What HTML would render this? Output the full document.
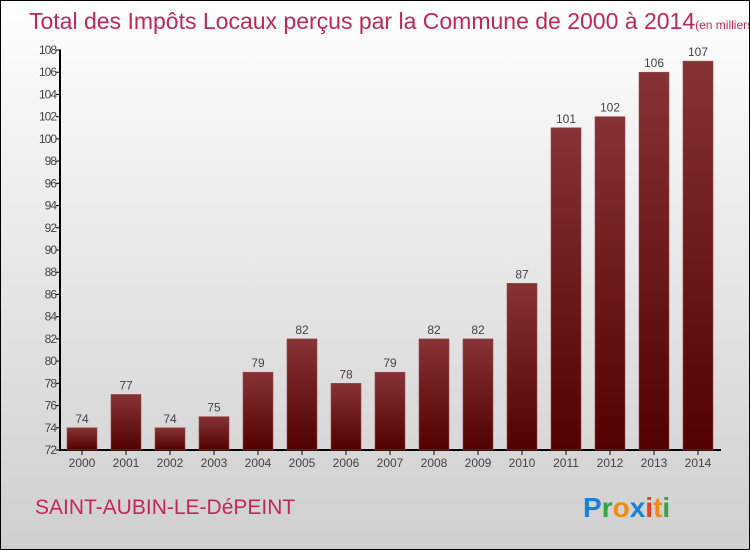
<!DOCTYPE html>
<html><head><meta charset="utf-8"><style>
body{margin:0}
#c{position:relative;width:748px;height:548px;border:1px solid #000;background:linear-gradient(#fff,#ebebeb 40%,#cfcfcf);font-family:"Liberation Sans",sans-serif;overflow:hidden}
</style></head><body>
<div id="c">
<svg width="748" height="548">
<defs><linearGradient id="g" x1="0" y1="0" x2="0" y2="1"><stop offset="0" stop-color="#873336"/><stop offset="1" stop-color="#520000"/></linearGradient></defs>
<text x="28" y="28" font-size="23" fill="#c0285a">Total des Impôts Locaux perçus par la Commune de 2000 à 2014<tspan font-size="12">(en milliers d'€)</tspan></text>
<g id="yax"></g><g id="bars"></g>
<text x="34" y="513" font-size="21" fill="#c0285a">SAINT-AUBIN-LE-DéPEINT</text>
<text x="582" y="516" font-size="28" font-weight="bold"><tspan fill="#1a7fd6">P</tspan><tspan fill="#3aa045">r</tspan><tspan fill="#f08a10">o</tspan><tspan fill="#1a7fd6">x</tspan><tspan fill="#e84020">i</tspan><tspan fill="#f08a10">t</tspan><tspan fill="#3aa045">i</tspan></text>
</svg></div>
<script>
const years=["2000","2001","2002","2003","2004","2005","2006","2007","2008","2009","2010","2011","2012","2013","2014"];
const values=[74,77,74,75,79,82,78,79,82,82,87,101,102,106,107];
const yTicks=[72,74,76,78,80,82,84,86,88,90,92,94,96,98,100,102,104,106,108];
const NS="http://www.w3.org/2000/svg";
const y=v=>449-(v-72)*400/36, x=i=>81+i*44;
function mk(t,a,p){const e=document.createElementNS(NS,t);for(const k in a)e.setAttribute(k,a[k]);p.appendChild(e);return e;}
const ya=document.getElementById('yax'),bg=document.getElementById('bars');
const ax=mk('path',{d:`M59 ${y(108)}V449H720`,stroke:'#000','stroke-width':2,fill:'none'},ya);


yTicks.forEach(t=>{
 mk('line',{x1:55,x2:60,y1:y(t),y2:y(t),stroke:'#000'},ya);
 const tx=mk('text',{x:55,y:y(t)+4,'text-anchor':'end','font-size':12,fill:'#444','letter-spacing':'-1'},ya);tx.textContent=t;
 
 
});
years.forEach((yr,i)=>{
 const r=mk('rect',{x:x(i)-15,y:y(values[i]),width:30,height:449-y(values[i]),fill:'url(#g)',stroke:'#9a4a4c','stroke-width':0.6},bg);
 
 
 const v=mk('text',{x:x(i),y:y(values[i])-5,'text-anchor':'middle','font-size':12,fill:'#444'},bg);v.textContent=values[i];
 
 
 mk('line',{x1:x(i),x2:x(i),y1:449,y2:454,stroke:'#000'},bg);
 const l=mk('text',{x:x(i),y:466,'text-anchor':'middle','font-size':12,fill:'#444'},bg);l.textContent=yr;
 
 
});
</script></body></html>
